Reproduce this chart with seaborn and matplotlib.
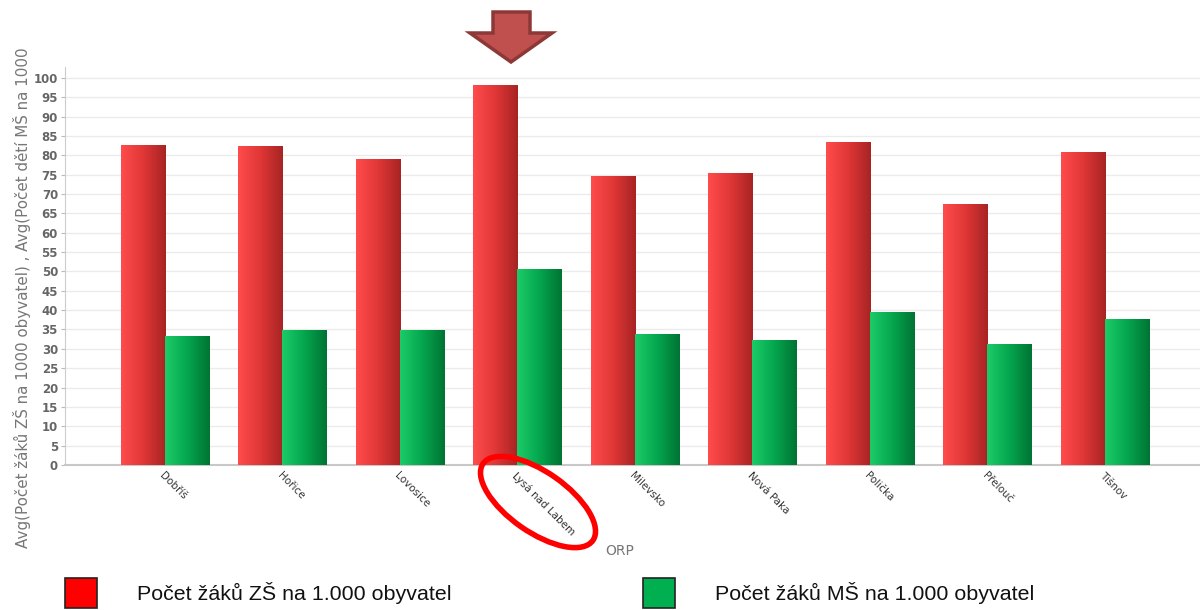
import numpy as np
import pandas as pd
import matplotlib
matplotlib.use("Agg")
import matplotlib.pyplot as plt
import matplotlib.patches as mpatches
from matplotlib.colors import LinearSegmentedColormap
import seaborn as sns

orp = ["Dobříš", "Hořice", "Lovosice", "Lysá nad Labem", "Milevsko",
       "Nová Paka", "Polička", "Přelouč", "Tišnov"]
zs = [82.7, 82.4, 79.1, 98.2, 74.7, 75.5, 83.5, 67.4, 80.9]
ms = [33.3, 34.9, 34.9, 50.6, 33.9, 32.3, 39.5, 31.3, 37.7]

zs_label = "Počet žáků ZŠ na 1.000 obyvatel"
ms_label = "Počet žáků MŠ na 1.000 obyvatel"

df = pd.DataFrame({"ORP": orp * 2,
                   "value": zs + ms,
                   "serie": ["ZS"] * len(orp) + ["MS"] * len(orp)})

sns.set_theme(style="white")
plt.rcParams["font.family"] = ["DejaVu Sans"]

fig = plt.figure(figsize=(12, 6.1), dpi=100)
ax = fig.add_axes([65 / 1200, 1 - 465 / 610, 1 - 65 / 1200, (465 - 67) / 610])

sns.barplot(data=df, x="ORP", y="value", hue="serie", order=orp,
            hue_order=["ZS", "MS"], palette=["#d83535", "#10a050"],
            width=0.75, ax=ax, legend=False, zorder=2)

# gradient fill, light on the left, dark on the right
red_cmap = LinearSegmentedColormap.from_list("r", ["#ff4c4c", "#e03636", "#a82424"])
green_cmap = LinearSegmentedColormap.from_list("g", ["#1ccb68", "#04a64e", "#007434"])
grad = np.linspace(0, 1, 64).reshape(1, -1)
n = len(orp)
for i, p in enumerate(ax.patches):
    cmap = red_cmap if i < n else green_cmap
    x0, y0 = p.get_x(), p.get_y()
    w, h = p.get_width(), p.get_height()
    p.set_edgecolor("none")
    im = ax.imshow(grad, extent=[x0, x0 + w, y0, y0 + h], cmap=cmap,
                   aspect="auto", zorder=3, interpolation="bilinear")
    im.set_clip_path(p)

ax.set_xlim(-0.85, 8.81)
ax.set_ylim(0, 102.8)
ax.set_yticks(range(0, 101, 5))
ax.yaxis.grid(True, color="#ebebeb", linewidth=1, zorder=0)
ax.set_axisbelow(True)
for lbl in ax.get_yticklabels():
    lbl.set_fontweight("bold")
ax.tick_params(axis="y", labelsize=8.5, labelcolor="#666666", length=3,
               color="#bbbbbb", width=0.8, left=True, pad=2)
ax.tick_params(axis="x", length=0, pad=4)
ax.set_xticks(range(n))
ax.set_xticklabels(orp, rotation=-45, ha="left", rotation_mode="anchor",
                   fontsize=7.5, color="#333333")
ax.set_xlabel("")
ax.set_ylabel("")
for s in ["top", "right"]:
    ax.spines[s].set_visible(False)
ax.spines["left"].set_color("#cccccc")
ax.spines["left"].set_linewidth(0.8)
ax.spines["bottom"].set_color("#c8c8c8")
ax.spines["bottom"].set_linewidth(1.5)

# the original label is cut at the top of the picture; keep the visible part
fig.text(0.018, 1 - 548 / 610,
         "Avg(Počet žáků ZŠ na 1000 obyvatel) , Avg(Počet dětí MŠ na 1000",
         rotation=90, ha="center", va="bottom", fontsize=10.9, color="#777777")
fig.text(620 / 1200, 1 - 551 / 610, "ORP", ha="center", va="center",
         fontsize=10, color="#777777")

# arrow pointing at Lysá nad Labem
W, H = 1200, 610
pts = [(493, 12), (530, 12), (530, 33), (552, 33), (511, 62),
       (470, 33), (493, 33)]
arrow = mpatches.Polygon([(x / W, 1 - y / H) for x, y in pts], closed=True,
                         transform=fig.transFigure, facecolor="#c0504d",
                         edgecolor="#8c3836", linewidth=2.5, joinstyle="miter")
fig.add_artist(arrow)

# red ellipse around its label
ell = mpatches.Ellipse((538, H - 502), 134, 60, angle=-35,
                       transform=None, facecolor="none",
                       edgecolor="#ff0000", linewidth=4)
fig.add_artist(ell)

# legend
h1 = mpatches.Patch(facecolor="#ff0000", edgecolor="#222222", linewidth=1.2)
h2 = mpatches.Patch(facecolor="#00b050", edgecolor="#222222", linewidth=1.2)
for h, lab, x in [(h1, zs_label, 65), (h2, ms_label, 643)]:
    leg = fig.legend([h], [lab], loc="lower left",
                     bbox_to_anchor=(x / W, 2 / H), frameon=False,
                     borderpad=0, borderaxespad=0, handlelength=1.5,
                     handleheight=1.8, handletextpad=1.85,
                     prop={"family": "Liberation Sans", "size": 15.4})
    for t in leg.get_texts():
        t.set_color("#111111")

fig.savefig("out.png", dpi=100)
